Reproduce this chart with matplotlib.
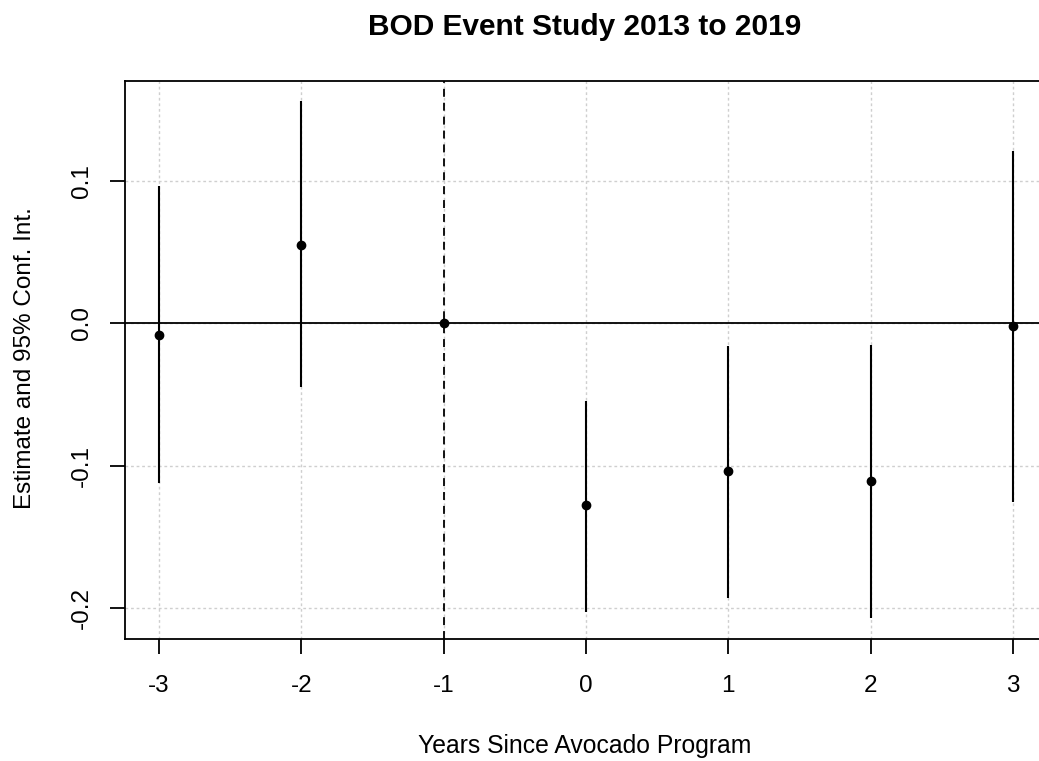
import matplotlib
matplotlib.use("Agg")
import matplotlib.pyplot as plt

plt.rcParams['font.family'] = ['Liberation Sans', 'DejaVu Sans']

# Data
years = [-3, -2, -1, 0, 1, 2, 3]
estimate = [-0.008, 0.0555, 0.0, -0.128, -0.104, -0.1105, -0.002]
ci_low = [-0.1125, -0.0445, 0.0, -0.2027, -0.1928, -0.2073, -0.1259]
ci_high = [0.0965, 0.1566, 0.0, -0.0547, -0.0156, -0.0154, 0.1216]
x_ticks = [-3, -2, -1, 0, 1, 2, 3]
y_ticks = [-0.2, -0.1, 0.0, 0.1]
y_tick_labels = ["-0.2", "-0.1", "0.0", "0.1"]
ref_period = -1

W, H = 1039, 761
fig = plt.figure(figsize=(W / 100, H / 100), dpi=100)
ax = fig.add_axes([125 / W, 1 - 639 / H, 922 / W, (639 - 81) / H])

ax.set_xlim(-3.24, 3.24)
ax.set_ylim(-0.2219, 0.1705)

# grid
for xv in x_ticks:
    ax.axvline(xv, color='#cfcfcf', lw=1.0, ls=(0, (2, 2)), zorder=1)
for yv in y_ticks:
    ax.axhline(yv, color='#cfcfcf', lw=1.0, ls=(0, (2, 2)), zorder=1)

ax.axhline(0, color='black', lw=1.3, zorder=2)
ax.axvline(ref_period, color='black', lw=1.3, ls=(0, (4.4, 3.3)), zorder=2)

for xv, lo, hi in zip(years, ci_low, ci_high):
    if hi > lo:
        ax.plot([xv, xv], [lo, hi], color='black', lw=1.5, zorder=3, solid_capstyle='butt')
ax.plot(years, estimate, 'o', color='black', markersize=6, zorder=4)

ax.set_xticks(x_ticks)
ax.set_xticklabels([str(v) for v in x_ticks])
ax.set_yticks(y_ticks)
ax.set_yticklabels(y_tick_labels)

for sp in ax.spines.values():
    sp.set_linewidth(1.3)
ax.tick_params(axis='both', direction='out', length=10.5, width=1.3, labelsize=17.5, color='black')
ax.tick_params(axis='x', pad=15.5)
ax.tick_params(axis='y', pad=12.5)
for lab in ax.get_yticklabels():
    lab.set_rotation(90)
    lab.set_va('center')
    lab.set_ha('right')

fig.text(585 / W, 1 - 35 / H, "BOD Event Study 2013 to 2019", ha='center', va='baseline',
         fontsize=21.5, fontweight='bold')
fig.text(585 / W, 1 - 753 / H, "Years Since Avocado Program", ha='center', va='baseline',
         fontsize=17.8)
fig.text(25 / W, 1 - 358 / H, "Estimate and 95% Conf. Int.", ha='center', va='center',
         rotation=90, fontsize=17.5)

fig.savefig("out.png", dpi=100)
